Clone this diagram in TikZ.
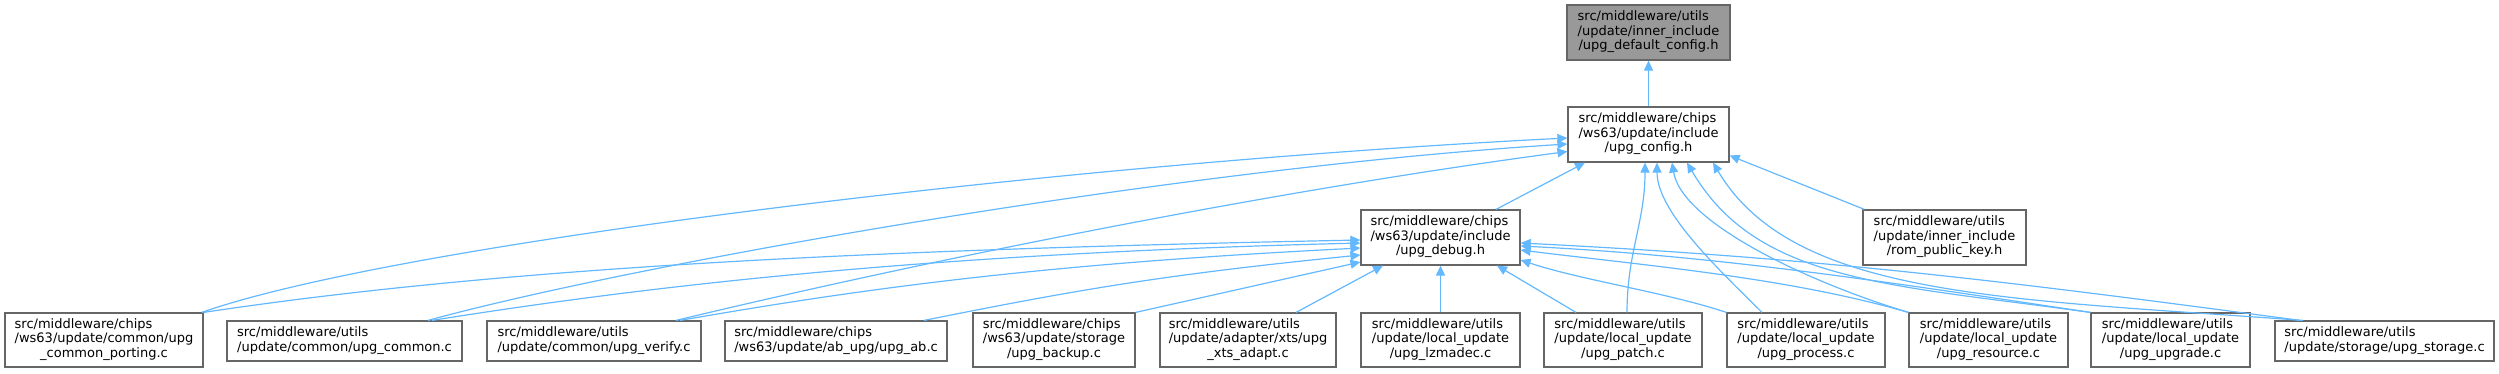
\documentclass[tikz,border=0pt]{standalone}
\usepackage{fontspec}
\setmainfont{DejaVu Sans}
\usetikzlibrary{arrows.meta,calc}
\definecolor{edgeblue}{HTML}{63B8FF}
\definecolor{boxborder}{HTML}{666666}
\definecolor{curfill}{HTML}{999999}
\newcommand{\dxtwo}[2]{\begin{tabular}{@{}l@{}}#1\\\multicolumn{1}{@{}c@{}}{#2}\end{tabular}}
\newcommand{\dxthree}[3]{\begin{tabular}{@{}l@{}}#1\\#2\\\multicolumn{1}{@{}c@{}}{#3}\end{tabular}}
\begin{document}
\begin{tikzpicture}[x=1pt,y=1pt,
  box/.style={draw=boxborder,fill=white,line width=1.2pt,inner sep=0pt,
    font=\fontsize{13}{14.5}\selectfont},
  curbox/.style={box,fill=curfill},
  edge/.style={draw=edgeblue,line width=1.2pt,-{Triangle[length=10pt,width=9pt]}}]
\useasboundingbox (0,0) rectangle (2499,-373);

% top nodes
\node[curbox,minimum width=163pt,minimum height=55pt] (n0) at (1648.5,-32.5)
  {\dxthree{src/middleware/utils}{/update/inner\_include}{/upg\_default\_config.h}};
\node[box,minimum width=161pt,minimum height=55pt] (n1) at (1648.5,-134.5)
  {\dxthree{src/middleware/chips}{/ws63/update/include}{/upg\_config.h}};
\node[box,minimum width=159pt,minimum height=55pt] (n2) at (1440.5,-237.5)
  {\dxthree{src/middleware/chips}{/ws63/update/include}{/upg\_debug.h}};
\node[box,minimum width=163pt,minimum height=55pt] (n3) at (1944.5,-237.5)
  {\dxthree{src/middleware/utils}{/update/inner\_include}{/rom\_public\_key.h}};

% bottom row
\node[box,minimum width=198pt,minimum height=54pt] (b1) at (104,-340)
  {\dxthree{src/middleware/chips}{/ws63/update/common/upg}{\_common\_porting.c}};
\node[box,minimum width=235pt,minimum height=40pt] (b2) at (344.5,-341)
  {\dxtwo{src/middleware/utils}{/update/common/upg\_common.c}};
\node[box,minimum width=214pt,minimum height=40pt] (b3) at (594,-341)
  {\dxtwo{src/middleware/utils}{/update/common/upg\_verify.c}};
\node[box,minimum width=222pt,minimum height=40pt] (b4) at (836,-341)
  {\dxtwo{src/middleware/chips}{/ws63/update/ab\_upg/upg\_ab.c}};
\node[box,minimum width=162pt,minimum height=54pt] (b5) at (1054,-340)
  {\dxthree{src/middleware/chips}{/ws63/update/storage}{/upg\_backup.c}};
\node[box,minimum width=176pt,minimum height=54pt] (b6) at (1248,-340)
  {\dxthree{src/middleware/utils}{/update/adapter/xts/upg}{\_xts\_adapt.c}};
\node[box,minimum width=159pt,minimum height=54pt] (b7) at (1440.5,-340)
  {\dxthree{src/middleware/utils}{/update/local\_update}{/upg\_lzmadec.c}};
\node[box,minimum width=158pt,minimum height=54pt] (b8) at (1623,-340)
  {\dxthree{src/middleware/utils}{/update/local\_update}{/upg\_patch.c}};
\node[box,minimum width=158pt,minimum height=54pt] (b9) at (1806,-340)
  {\dxthree{src/middleware/utils}{/update/local\_update}{/upg\_process.c}};
\node[box,minimum width=159pt,minimum height=54pt] (b10) at (1988.5,-340)
  {\dxthree{src/middleware/utils}{/update/local\_update}{/upg\_resource.c}};
\node[box,minimum width=159pt,minimum height=54pt] (b11) at (2170.5,-340)
  {\dxthree{src/middleware/utils}{/update/local\_update}{/upg\_upgrade.c}};
\node[box,minimum width=219pt,minimum height=40pt] (b12) at (2384.5,-341)
  {\dxtwo{src/middleware/utils}{/update/storage/upg\_storage.c}};

% edges into default config
\draw[edge] (n1.north) -- (n0.south);

% edges into upg_config.h
\draw[edge] ([xshift=-2pt]b1.north east) .. controls +(200,70) and +(-500,-25) .. ([yshift=-3.5pt]n1.west);
\draw[edge] ([xshift=83.5pt]b2.north) .. controls +(200,55) and +(-400,-25) .. ([yshift=-9.5pt]n1.west);
\draw[edge] ([xshift=82pt]b3.north) .. controls +(250,60) and +(-300,-40) .. ([yshift=-17pt]n1.west);
\draw[edge] ([xshift=55.5pt]n2.north) -- ([xshift=-63.5pt]n1.south);
\draw[edge] ([xshift=4pt]b8.north) .. controls +(0,60) and +(0,-60) .. ([xshift=-3.5pt]n1.south);
\draw[edge] ([xshift=-44pt]b9.north) .. controls +(-40,40) and +(0,-50) .. ([xshift=8.5pt]n1.south);
\draw[edge] (b10.north west) .. controls +(-100,30) and +(10,-60) .. ([xshift=23.5pt]n1.south);
\draw[edge] (b11.north west) .. controls +(-200,28) and +(70,-120) .. ([xshift=38.5pt]n1.south);
\draw[edge] ([xshift=-81.5pt]b12.north) .. controls +(-300,22) and +(80,-135) .. ([xshift=64.5pt]n1.south);
\draw[edge] ([xshift=2pt]n3.north west) -- ([yshift=-21pt]n1.east);

% edges into upg_debug.h
\draw[edge] (b1.north east) .. controls +(300,45) and +(-500,-10) .. ([yshift=-2.5pt]n2.west);
\draw[edge] ([xshift=87.5pt]b2.north) .. controls +(250,40) and +(-400,-10) .. ([yshift=-5.5pt]n2.west);
\draw[edge] ([xshift=86pt]b3.north) .. controls +(200,35) and +(-300,-15) .. ([yshift=-10.5pt]n2.west);
\draw[edge] ([xshift=88pt]b4.north) .. controls +(150,30) and +(-200,-20) .. ([yshift=-17.5pt]n2.west);
\draw[edge] (b5.north east) -- ([yshift=-24.5pt]n2.west);
\draw[edge] ([xshift=48pt]b6.north) -- ([xshift=-57.5pt]n2.south);
\draw[edge] (b7.north) -- (n2.south);
\draw[edge] ([xshift=-47pt]b8.north) -- ([xshift=56.5pt]n2.south);
\draw[edge] (b9.north west) .. controls +(-60,20) and +(60,-20) .. ([yshift=-22.5pt]n2.east);
\draw[edge] (b10.north west) .. controls +(-120,35) and +(120,-15) .. ([yshift=-12.5pt]n2.east);
\draw[edge] (b11.north west) .. controls +(-200,30) and +(200,-10) .. ([yshift=-8.5pt]n2.east);
\draw[edge] ([xshift=-84.5pt]b12.north) .. controls +(-300,40) and +(300,-15) .. ([yshift=-5.5pt]n2.east);
\end{tikzpicture}
\end{document}
